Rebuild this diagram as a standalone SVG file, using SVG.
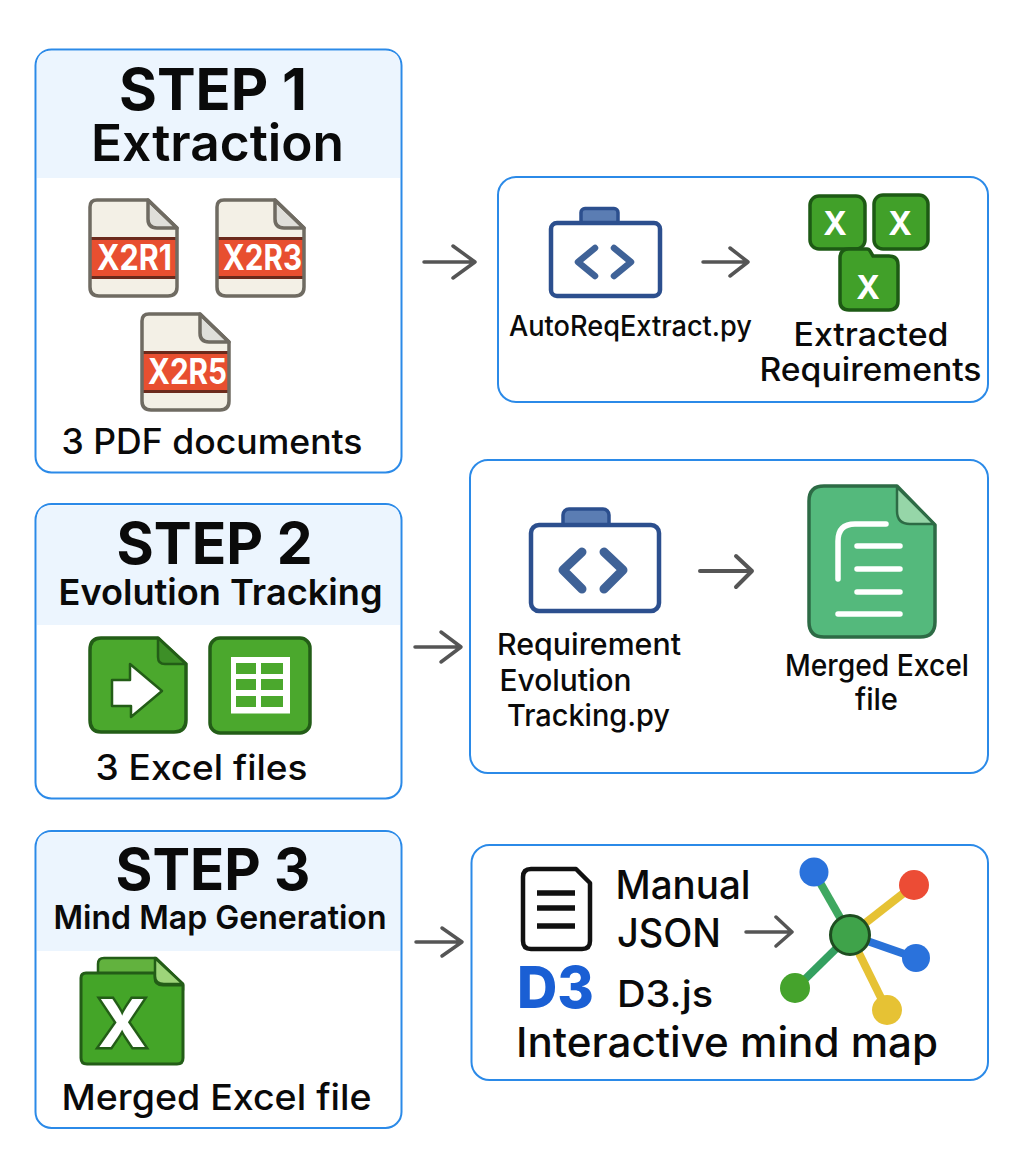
<svg xmlns="http://www.w3.org/2000/svg" xmlns:xlink="http://www.w3.org/1999/xlink" width="1024" height="1158" viewBox="0 0 1024 1158">
<style>
text{font-family:Inter,"Liberation Sans",sans-serif;fill:#0a0a0a}
.box{fill:#fff;stroke:#2b8ae8;stroke-width:2}
.band{fill:#ecf5fe}
.t1{font-size:58px;font-weight:700}
.t2{font-weight:600}
.lb{font-weight:500}
.arrow{fill:none;stroke:#555;stroke-linecap:round;stroke-linejoin:round}
.pdft{font-size:35px;font-weight:700;fill:#fff}
.xl{font-weight:700;fill:#fff;text-anchor:middle}
.tile{fill:#41a029;stroke:#1d5a14;stroke-width:3.5}
.win{fill:#fff;stroke:#2c4f8e;stroke-width:4.5}
.tab{fill:#5b7db3;stroke:#2c4f8e;stroke-width:3.5}
.chev{fill:none;stroke:#3f6297;stroke-linecap:round;stroke-linejoin:round}
.wl{fill:none;stroke:#fff;stroke-width:5.5;stroke-linecap:round}
</style>
<defs>
<g id="pdf">
<path d="M8 1H59L88 29V88Q88 97 79 97H10Q1 97 1 88V8Q1 1 8 1Z" fill="#f3f0e6"/>
<path d="M1 38H88V80H1Z" fill="#e84f30"/>
<path d="M1 38H88V41H1ZM1 77H88V80H1Z" fill="#6b2a1c"/>
<path d="M59 1L88 29H68Q59 29 59 20Z" fill="#dfdfda" stroke="#6f6b62" stroke-width="3.5" stroke-linejoin="round"/>
<path d="M8 1H59L88 29V88Q88 97 79 97H10Q1 97 1 88V8Q1 1 8 1Z" fill="none" stroke="#6f6b62" stroke-width="3.5" stroke-linejoin="round"/>
</g>
</defs>

<g id="step1">
<rect class="box" x="35.5" y="49.5" width="366" height="423" rx="16"/>
<path class="band" d="M37 178V65Q37 51 51 51H386Q400 51 400 65V178Z"/>
<text class="t1" x="119" y="110" textLength="188" lengthAdjust="spacingAndGlyphs">STEP 1</text>
<text class="t2" font-size="51" x="91" y="161" textLength="253" lengthAdjust="spacingAndGlyphs">Extraction</text>
<use xlink:href="#pdf" href="#pdf" x="89" y="199"/>
<text class="pdft" x="97" y="270" textLength="75" lengthAdjust="spacingAndGlyphs">X2R1</text>
<use xlink:href="#pdf" href="#pdf" x="216" y="199"/>
<text class="pdft" x="223" y="270" textLength="79" lengthAdjust="spacingAndGlyphs">X2R3</text>
<use xlink:href="#pdf" href="#pdf" x="141" y="313"/>
<text class="pdft" x="148" y="384" textLength="79" lengthAdjust="spacingAndGlyphs">X2R5</text>
<text class="lb" font-size="35" x="61.500" y="454" textLength="301" lengthAdjust="spacingAndGlyphs">3 PDF documents</text>
</g>

<g id="extract">
<rect class="box" x="498" y="177" width="490" height="225" rx="18"/>
<rect class="tab" x="581" y="208.500" width="37" height="16" rx="4"/>
<rect class="win" x="551" y="223" width="109" height="73" rx="6"/>
<path class="chev" stroke-width="6.500" d="M595 248L578 262L595 276M614 248L631 262L614 276"/>
<text class="lb" font-size="28" x="509" y="336" textLength="243" lengthAdjust="spacingAndGlyphs">AutoReqExtract.py</text>
<rect class="tile" x="810" y="196" width="55" height="53" rx="9"/>
<rect class="tile" x="874" y="195" width="54" height="54" rx="9"/>
<path class="tile" d="M849 249H867Q869 249 870 251L873 256H889Q898 256 898 265V301Q898 310 889 310H849Q840 310 840 301V258Q840 249 849 249Z"/>
<text class="xl" font-size="32" x="835" y="235">X</text>
<text class="xl" font-size="32" x="900" y="235">X</text>
<text class="xl" font-size="32" x="868" y="299">X</text>
<text class="lb" font-size="32" x="793.500" y="346" textLength="155" lengthAdjust="spacingAndGlyphs">Extracted</text>
<text class="lb" font-size="32" x="759.500" y="381" textLength="222" lengthAdjust="spacingAndGlyphs">Requirements</text>
</g>

<g id="step2">
<rect class="box" x="35.500" y="504" width="366" height="294.500" rx="16"/>
<path class="band" d="M37 625V519Q37 505.500 51 505.500H386Q400 505.500 400 519V625Z"/>
<text class="t1" x="116.500" y="564" textLength="196" lengthAdjust="spacingAndGlyphs">STEP 2</text>
<text class="t2" font-size="36" x="58.500" y="605" textLength="324" lengthAdjust="spacingAndGlyphs">Evolution Tracking</text>
<path d="M101 638H158L186 664V720Q186 732 174 732H101Q90 732 90 720V650Q90 638 101 638Z" fill="#4ba82d" stroke="#235d17" stroke-width="3.500" stroke-linejoin="round"/>
<path d="M158 638L186 664H165Q158 664 158 657Z" fill="#3d8f27" stroke="#235d17" stroke-width="2.500" stroke-linejoin="round"/>
<path d="M112 680H130V664L162 691L131 717V706H112Z" fill="#fff" stroke="#235d17" stroke-width="2.500" stroke-linejoin="round"/>
<rect x="210" y="638" width="100" height="95" rx="10" fill="#4ba82d" stroke="#235d17" stroke-width="3.500"/>
<rect x="231" y="657" width="59" height="56.500" fill="#fff"/>
<path fill="#4ba82d" d="M236 663H256V674H236ZM261 663H283V674H261ZM236 679H256V690H236ZM261 679H283V690H261ZM236 696H256V707H236ZM261 696H283V707H261Z"/>
<text class="lb" font-size="35" x="95.500" y="780" textLength="212" lengthAdjust="spacingAndGlyphs">3 Excel files</text>
</g>

<g id="tracking">
<rect class="box" x="470" y="460" width="518" height="313" rx="18"/>
<rect class="tab" x="563" y="509" width="46" height="20" rx="6"/>
<rect class="win" x="531" y="525" width="128" height="86" rx="8"/>
<path class="chev" stroke-width="9" d="M582 552L563 570L582 589M604 552L623 570L604 589"/>
<text class="lb" font-size="30" x="497" y="655" textLength="184" lengthAdjust="spacingAndGlyphs">Requirement</text>
<text class="lb" font-size="30" x="499.500" y="691" textLength="132" lengthAdjust="spacingAndGlyphs">Evolution</text>
<text class="lb" font-size="30" x="507" y="726" textLength="163" lengthAdjust="spacingAndGlyphs">Tracking.py</text>
<path d="M824 486H897L935 525V622Q935 637 920 637H824Q809 637 809 622V501Q809 486 824 486Z" fill="#54b97c" stroke="#2d6b45" stroke-width="3.500" stroke-linejoin="round"/>
<path d="M897 487L934 524H910Q897 524 897 511Z" fill="#96d6a8" stroke="#2d6b45" stroke-width="2.500" stroke-linejoin="round"/>
<path class="wl" d="M886 524H855Q838 524 838 541V579M857 546H900M857 569H900M857 592H900M838 614H900"/>
<text class="lb" font-size="30" x="785" y="676" textLength="184" lengthAdjust="spacingAndGlyphs">Merged Excel</text>
<text class="lb" font-size="30" x="855" y="710" textLength="43" lengthAdjust="spacingAndGlyphs">file</text>
</g>

<g id="step3">
<rect class="box" x="35.500" y="831" width="366" height="297" rx="16"/>
<path class="band" d="M37 951V846Q37 832.500 51 832.500H386Q400 832.500 400 846V951Z"/>
<text class="t1" x="115.500" y="890" textLength="195" lengthAdjust="spacingAndGlyphs">STEP 3</text>
<text class="t2" font-size="33" x="53.500" y="929" textLength="333" lengthAdjust="spacingAndGlyphs">Mind Map Generation</text>
<path d="M98 975V964Q98 958 104 958H156L183 984V990H120V975Z" fill="#62b23e" stroke="#235d17" stroke-width="2.500" stroke-linejoin="round"/>
<path d="M86 973H155V978Q155 985 163 985H183V1058Q183 1064 177 1064H87Q81 1064 81 1058V978Q81 973 86 973Z" fill="#44a528" stroke="#235d17" stroke-width="3" stroke-linejoin="round"/>
<path d="M155 958L183 984H164Q155 984 155 976Z" fill="#9ed57a" stroke="#235d17" stroke-width="2.500" stroke-linejoin="round"/>
<text class="xl" font-size="66" x="122" y="1047" stroke="#235d17" stroke-width="5" paint-order="stroke">X</text>
<text class="lb" font-size="36" x="61.500" y="1110" textLength="310" lengthAdjust="spacingAndGlyphs">Merged Excel file</text>
</g>

<g id="mindmap">
<rect class="box" x="471.500" y="845" width="516.500" height="235" rx="18"/>
<path d="M531 869H576L590 883V941Q590 949 582 949H531Q523 949 523 941V877Q523 869 531 869Z" fill="#fff" stroke="#111" stroke-width="4.500" stroke-linejoin="round"/>
<path d="M537 893H575M537 908H575M537 926H575" fill="none" stroke="#111" stroke-width="5.500"/>
<text class="lb" font-size="39" x="615.500" y="899" textLength="135" lengthAdjust="spacingAndGlyphs">Manual</text>
<text class="lb" font-size="39" x="617" y="947" textLength="104" lengthAdjust="spacingAndGlyphs">JSON</text>
<text font-size="58" font-weight="800" style="fill:#1a5fd4" x="517" y="1008" textLength="77" lengthAdjust="spacingAndGlyphs">D3</text>
<text class="lb" font-size="37" x="617" y="1007" textLength="96" lengthAdjust="spacingAndGlyphs">D3.js</text>
<text class="lb" font-size="41" x="516" y="1057" textLength="422" lengthAdjust="spacingAndGlyphs">Interactive mind map</text>
<path d="M850 935L814 872" stroke="#3fa860" stroke-width="8"/>
<path d="M850 935L914 885" stroke="#e6c234" stroke-width="8"/>
<path d="M850 935L916 958" stroke="#2a72d8" stroke-width="8"/>
<path d="M850 935L796 988" stroke="#34a060" stroke-width="8"/>
<path d="M850 935L887 1010" stroke="#e6c234" stroke-width="8"/>
<circle cx="814" cy="872" r="14.500" fill="#2a72dc"/>
<circle cx="914" cy="885" r="15" fill="#ec4c35"/>
<circle cx="916" cy="958" r="14" fill="#2a72dc"/>
<circle cx="795" cy="988" r="15" fill="#45a32c"/>
<circle cx="887" cy="1010" r="15" fill="#e6c234"/>
<circle cx="850" cy="935" r="19.500" fill="#3fa34a" stroke="#1e4d20" stroke-width="3"/>
</g>

<g id="connectors">
<path class="arrow" stroke-width="3.5" d="M424 262H475M453 246L475 262L453 278"/>
<path class="arrow" stroke-width="3.5" d="M415 647H461M441 632L461 647L441 662"/>
<path class="arrow" stroke-width="3.5" d="M416 942H462M442 928L462 942L442 956"/>
<path class="arrow" stroke-width="3.5" d="M703 262H748M730 248L748 262L730 276"/>
<path class="arrow" stroke-width="4" d="M700 571H752M736 556L752 571L736 587"/>
<path class="arrow" stroke-width="3.5" d="M746 932H792M776 917L792 932L776 946"/>
</g>
</svg>
